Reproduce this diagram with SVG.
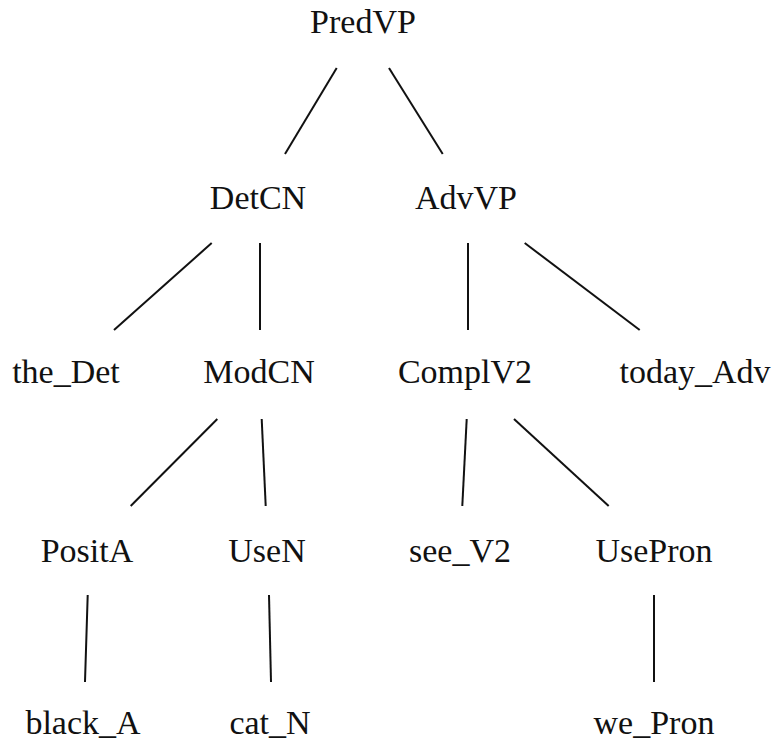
<svg xmlns="http://www.w3.org/2000/svg" width="776" height="742" viewBox="0 0 776 742">
<style>
text { font-family: "Liberation Serif", "Times New Roman", serif; font-size: 34px; fill: #111; text-anchor: middle; }
line { stroke: #111; stroke-width: 2; stroke-linecap: butt; }
</style>
<rect width="776" height="742" fill="#fff"/>
<g id="connectors">
<line x1="336.7" y1="68" x2="285" y2="154"/>
<line x1="389" y1="68" x2="442.7" y2="154"/>
<line x1="211.7" y1="243" x2="114" y2="330"/>
<line x1="260" y1="243" x2="260" y2="330"/>
<line x1="468" y1="243" x2="468" y2="330"/>
<line x1="524.7" y1="243" x2="639.7" y2="330"/>
<line x1="217.3" y1="419" x2="130.7" y2="506"/>
<line x1="261.7" y1="419" x2="265.7" y2="506"/>
<line x1="466.7" y1="419" x2="462.3" y2="506"/>
<line x1="514" y1="419" x2="608.7" y2="506"/>
<line x1="87.7" y1="595" x2="85" y2="682"/>
<line x1="269" y1="595" x2="271" y2="682"/>
<line x1="654" y1="595" x2="654" y2="682"/>
</g>
<g id="PredVP"><text x="363" y="33">PredVP</text></g>
<g id="DetCN"><text x="258" y="209">DetCN</text></g>
<g id="AdvVP"><text x="466" y="209">AdvVP</text></g>
<g id="the_Det"><text x="66" y="383">the_Det</text></g>
<g id="ModCN"><text x="259" y="383">ModCN</text></g>
<g id="ComplV2"><text x="465" y="383">ComplV2</text></g>
<g id="today_Adv"><text x="695" y="383">today_Adv</text></g>
<g id="PositA"><text x="87" y="562">PositA</text></g>
<g id="UseN"><text x="267" y="562">UseN</text></g>
<g id="see_V2"><text x="460" y="562">see_V2</text></g>
<g id="UsePron"><text x="654" y="562">UsePron</text></g>
<g id="black_A"><text x="83" y="734">black_A</text></g>
<g id="cat_N"><text x="270" y="734">cat_N</text></g>
<g id="we_Pron"><text x="654" y="734">we_Pron</text></g>
</svg>
